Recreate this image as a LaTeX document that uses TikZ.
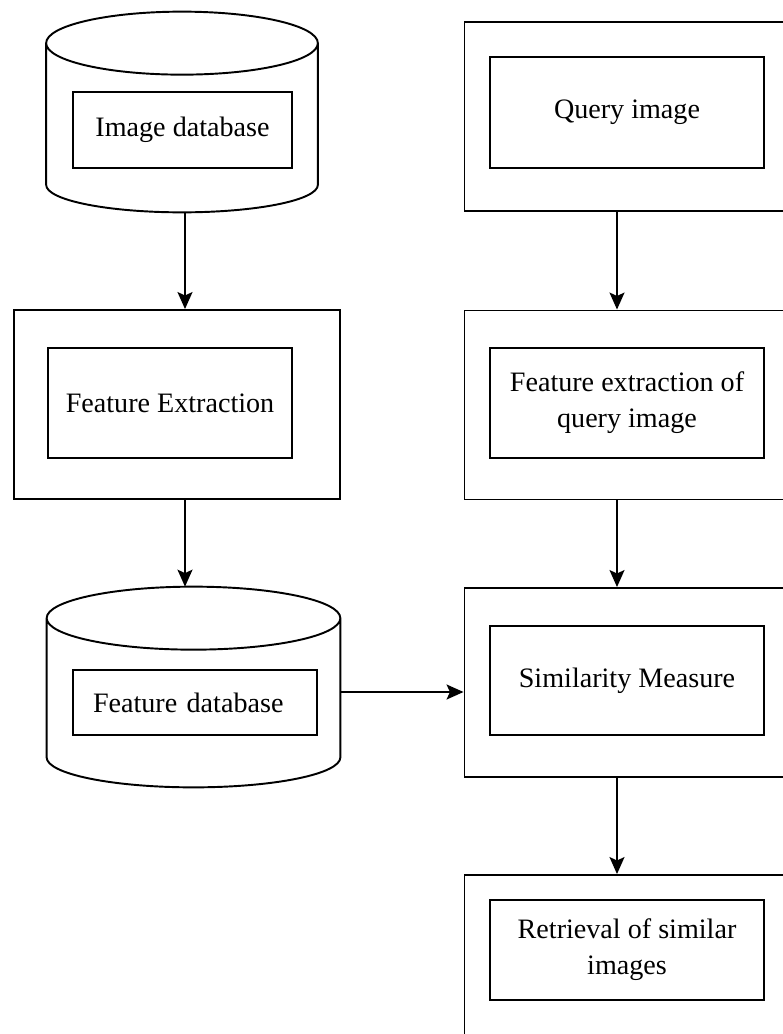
\documentclass[tikz,border=0pt]{standalone}
\usepackage{fontspec}
\setmainfont{Liberation Serif}
\usetikzlibrary{calc,arrows.meta}
\tikzset{
  outerbox/.style={draw,line width=1.1pt,minimum width=6.5cm,minimum height=3.78cm},
  innerbox/.style={draw,line width=1.1pt,align=center,font=\fontsize{16}{20.5}\selectfont},
  dbase/.style={minimum height=4cm,inner sep=0pt},
  dbline/.style={line width=1.1pt},
  arr/.style={-{Stealth[length=0.34cm,width=0.3cm,inset=0.07cm]},line width=1.1pt}
}
% cylinder outline round a named node: #1 node, #2 top radius, #3 bottom radius
\newcommand{\dbcyl}[3]{%
  \draw[dbline] let \p1=(#1.north west), \p2=(#1.south east), \n1={(\x2-\x1)/2} in
    ([yshift=-#2]#1.north) ellipse [x radius=\n1, y radius=#2]
    ([yshift=-#2]#1.north west) -- ([yshift=#3]#1.south west)
    arc[start angle=180, end angle=360, x radius=\n1, y radius=#3]
    -- ([yshift=-#2]#1.north east);}
\begin{document}
\begin{tikzpicture}
\useasboundingbox (0,0) rectangle (15.64,-20.68);
% left column
\node[dbase,minimum width=5.42cm] (imgdb) at (3.64,-2.24) {};
\dbcyl{imgdb}{0.63cm}{0.55cm}
\node[innerbox,minimum width=4.38cm,minimum height=1.52cm] (imgdbtxt) at (3.65,-2.6) {Image database};
\node[outerbox,minimum width=6.52cm] (fe) at (3.54,-8.09) {};
\node[innerbox,minimum width=4.88cm,minimum height=2.2cm] (fetxt) at (3.4,-8.06) {Feature Extraction};
\node[dbase,minimum width=5.86cm] (fedb) at (3.87,-13.74) {};
\dbcyl{fedb}{0.63cm}{0.6cm}
\node[innerbox,minimum width=4.88cm,minimum height=1.3cm,text width=4.08cm,align=left,inner sep=0.4cm] (fedbtxt) at (3.9,-14.05) {Feature database};
% right column
\node[outerbox] (q) at (12.54,-2.33) {};
\node[innerbox,minimum width=5.48cm,minimum height=2.22cm] (qtxt) at (12.54,-2.25) {Query image};
\node[outerbox] (qfe) at (12.54,-8.1) {};
\node[innerbox,minimum width=5.48cm,minimum height=2.2cm] (qfetxt) at (12.54,-8.06) {Feature extraction of\\query image};
\node[outerbox] (sim) at (12.54,-13.65) {};
\node[innerbox,minimum width=5.48cm,minimum height=2.18cm] (simtxt) at (12.54,-13.61) {Similarity Measure};
\node[outerbox] (ret) at (12.54,-19.39) {};
\node[innerbox,minimum width=5.48cm,minimum height=2.0cm] (rettxt) at (12.54,-19.0) {Retrieval of similar\\images};
% connectors
\draw[arr] ([xshift=0.06cm]imgdb.south) -- ([xshift=0.06cm]imgdb.south |- fe.north);
\draw[arr] ([xshift=0.16cm]fe.south) -- ([xshift=0.16cm]fe.south |- fedb.north);
\draw[arr] ([yshift=-0.1cm]fedb.east) -- ([yshift=-0.1cm]fedb.east -| sim.west);
\draw[arr] ([xshift=-0.2cm]q.south) -- ([xshift=-0.2cm]qfe.north);
\draw[arr] ([xshift=-0.2cm]qfe.south) -- ([xshift=-0.2cm]sim.north);
\draw[arr] ([xshift=-0.2cm]sim.south) -- ([xshift=-0.2cm]ret.north);
\end{tikzpicture}
\end{document}
